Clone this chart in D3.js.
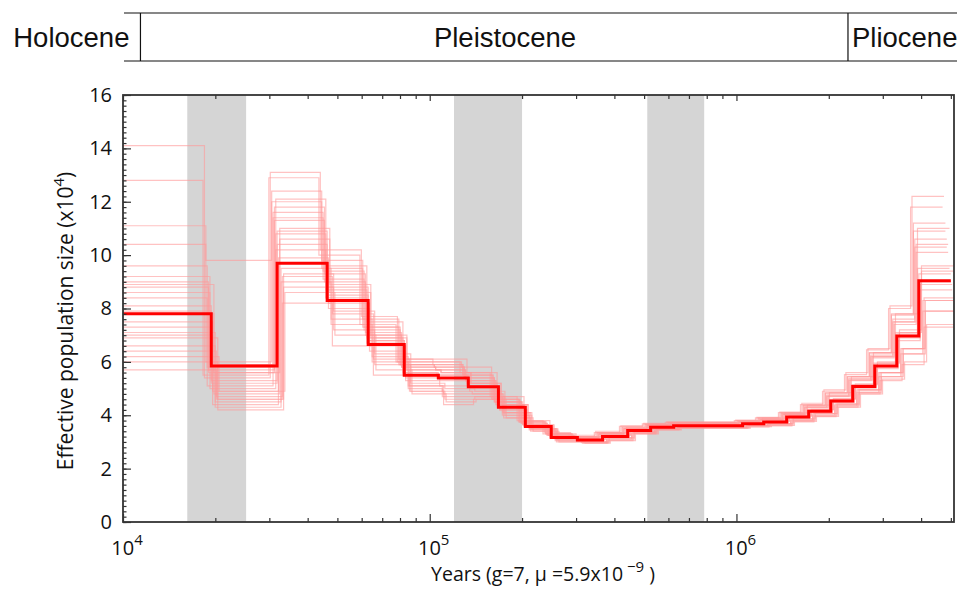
<!DOCTYPE html>
<html>
<head>
<meta charset="utf-8">
<script src="https://cdn.jsdelivr.net/npm/d3@7"></script>
<style>
  body { margin: 0; background: #fff; }
  svg text { fill: #111; }
</style>
</head>
<body>
<div id="chart"></div>
<script>
// ---- data ----
// PSMC time edges in years (first edge lies left of the visible range)
const timeEdges = [8000, 19400, 31800, 46300, 63000, 82600, 106700, 133600, 167500, 205000,
  249000, 303000, 366000, 442000, 525000, 624000, 1047000, 1227000, 1458000, 1720000,
  2030000, 2394000, 2825000, 3333000, 3932000, 5000000];
// main estimate, Ne (x10^4) per interval
const neMain = [7.8, 5.85, 9.7, 8.3, 6.65, 5.5, 5.4, 5.07, 4.3, 3.58, 3.17, 3.07, 3.2, 3.43,
  3.55, 3.61, 3.68, 3.75, 3.93, 4.15, 4.53, 5.08, 5.85, 6.97, 9.04];

// bootstrap replicates: time scaling of each replicate
const bootScale = [1.02, 0.97, 1.05, 0.99, 1.03, 0.95, 1.06, 0.98, 1.01, 0.96, 1.04, 1.0,
  0.97, 1.03, 0.99, 0.94, 1.02, 1.05, 1.0, 0.96, 1.04, 0.98, 1.01, 0.99];
// bootstrap Ne values, one row per interval, one column per replicate
const bootNe = [
  [7.8, 8.4, 6.9, 9.2, 7.1, 14.1, 6.2, 8.8, 7.5, 10.4, 5.7, 8.1, 9.6, 6.6, 7.3, 12.8, 8.9, 6.0, 7.9, 11.1, 6.4, 9.0, 7.0, 8.6],
  [5.6, 5.1, 4.6, 5.9, 4.3, 5.4, 4.9, 5.7, 4.4, 6.0, 4.7, 5.3, 5.8, 4.5, 5.0, 5.5, 4.8, 4.2, 5.2, 9.8, 4.6, 5.6, 4.9, 5.9],
  [10.6, 11.4, 9.3, 12.1, 9.0, 13.1, 8.6, 11.8, 9.9, 12.4, 8.2, 10.9, 11.6, 9.5, 10.2, 12.9, 11.0, 8.8, 10.4, 12.0, 9.2, 11.3, 9.7, 10.8],
  [8.6, 9.1, 7.9, 9.6, 7.4, 10.2, 7.0, 9.3, 8.2, 9.8, 6.6, 8.8, 9.4, 7.6, 8.4, 10.0, 8.9, 7.2, 8.5, 9.5, 7.8, 9.0, 8.0, 8.7],
  [6.9, 7.2, 6.3, 7.5, 6.0, 7.7, 5.7, 7.1, 6.6, 7.6, 5.5, 6.8, 7.3, 6.2, 6.7, 7.4, 7.0, 5.9, 6.8, 7.3, 6.1, 7.0, 6.4, 6.9],
  [5.7, 5.9, 5.2, 6.1, 5.0, 6.0, 4.8, 5.8, 5.4, 6.1, 4.9, 5.6, 5.9, 5.1, 5.5, 6.0, 5.7, 4.9, 5.5, 5.9, 5.1, 5.8, 5.3, 5.6],
  [5.6, 5.8, 5.0, 6.1, 4.7, 6.0, 4.5, 5.7, 5.3, 5.9, 4.4, 5.5, 5.8, 4.9, 5.4, 6.0, 5.6, 4.6, 5.4, 5.9, 4.8, 5.7, 5.1, 5.5],
  [5.2, 5.4, 4.9, 5.6, 4.7, 5.8, 4.6, 5.3, 5.0, 5.5, 4.6, 5.1, 5.4, 4.8, 5.1, 5.6, 5.2, 4.7, 5.1, 5.5, 4.8, 5.3, 4.9, 5.2],
  [4.4, 4.5, 4.1, 4.7, 4.0, 4.6, 3.9, 4.5, 4.2, 4.6, 3.9, 4.3, 4.5, 4.1, 4.3, 4.7, 4.4, 4.0, 4.3, 4.6, 4.1, 4.4, 4.2, 4.4],
  [3.6, 3.7, 3.5, 3.8, 3.45, 3.75, 3.4, 3.65, 3.55, 3.75, 3.4, 3.6, 3.7, 3.5, 3.6, 3.8, 3.65, 3.45, 3.6, 3.75, 3.5, 3.65, 3.55, 3.6],
  [3.2, 3.25, 3.1, 3.3, 3.05, 3.35, 3.0, 3.25, 3.15, 3.3, 3.0, 3.2, 3.25, 3.1, 3.15, 3.3, 3.2, 3.05, 3.15, 3.3, 3.1, 3.25, 3.15, 3.2],
  [3.1, 3.15, 3.0, 3.2, 2.97, 3.25, 2.95, 3.15, 3.05, 3.2, 2.95, 3.1, 3.15, 3.0, 3.05, 3.2, 3.1, 2.97, 3.05, 3.2, 3.0, 3.15, 3.05, 3.1],
  [3.25, 3.3, 3.15, 3.35, 3.1, 3.4, 3.05, 3.3, 3.2, 3.35, 3.05, 3.25, 3.3, 3.15, 3.2, 3.35, 3.25, 3.1, 3.2, 3.35, 3.15, 3.3, 3.2, 3.25],
  [3.45, 3.5, 3.38, 3.55, 3.33, 3.6, 3.3, 3.5, 3.42, 3.55, 3.3, 3.45, 3.5, 3.37, 3.43, 3.58, 3.47, 3.33, 3.43, 3.55, 3.37, 3.5, 3.4, 3.46],
  [3.57, 3.62, 3.5, 3.66, 3.47, 3.7, 3.45, 3.62, 3.54, 3.66, 3.45, 3.57, 3.62, 3.5, 3.55, 3.68, 3.58, 3.47, 3.55, 3.66, 3.5, 3.61, 3.53, 3.58],
  [3.63, 3.68, 3.57, 3.72, 3.54, 3.75, 3.52, 3.68, 3.6, 3.72, 3.52, 3.63, 3.68, 3.57, 3.61, 3.73, 3.64, 3.54, 3.61, 3.72, 3.57, 3.67, 3.59, 3.64],
  [3.7, 3.75, 3.63, 3.8, 3.6, 3.82, 3.57, 3.75, 3.67, 3.79, 3.56, 3.7, 3.76, 3.63, 3.68, 3.8, 3.71, 3.6, 3.68, 3.79, 3.63, 3.74, 3.66, 3.71],
  [3.78, 3.84, 3.69, 3.89, 3.65, 3.92, 3.62, 3.84, 3.74, 3.89, 3.6, 3.78, 3.85, 3.69, 3.75, 3.9, 3.79, 3.65, 3.75, 3.88, 3.69, 3.83, 3.72, 3.79],
  [3.97, 4.03, 3.86, 4.09, 3.8, 4.12, 3.77, 4.04, 3.92, 4.08, 3.75, 3.96, 4.05, 3.86, 3.93, 4.1, 3.98, 3.81, 3.93, 4.08, 3.86, 4.02, 3.9, 3.98],
  [4.2, 4.3, 4.06, 4.38, 4.0, 4.45, 3.96, 4.3, 4.13, 4.38, 3.95, 4.19, 4.32, 4.06, 4.15, 4.4, 4.22, 4.0, 4.15, 4.37, 4.06, 4.28, 4.11, 4.21],
  [4.6, 4.72, 4.42, 4.85, 4.35, 4.95, 4.3, 4.73, 4.5, 4.84, 4.3, 4.58, 4.76, 4.42, 4.53, 4.9, 4.62, 4.35, 4.53, 4.83, 4.42, 4.7, 4.48, 4.6],
  [5.15, 5.32, 4.95, 5.45, 4.86, 5.6, 4.8, 5.33, 5.05, 5.45, 4.8, 5.13, 5.37, 4.95, 5.08, 5.52, 5.18, 4.86, 5.08, 5.44, 4.95, 5.3, 5.02, 5.15],
  [5.95, 6.2, 5.6, 6.35, 5.45, 6.5, 5.35, 6.2, 5.8, 6.35, 5.3, 5.92, 6.25, 5.6, 5.85, 6.45, 6.0, 5.45, 5.85, 6.33, 5.6, 6.15, 5.75, 5.95],
  [7.1, 7.5, 6.5, 7.8, 6.3, 8.1, 6.0, 7.5, 6.9, 7.8, 5.9, 7.05, 7.6, 6.5, 6.97, 8.0, 7.2, 6.3, 6.97, 7.75, 6.5, 7.4, 6.8, 7.1],
  [9.4, 10.3, 8.3, 11.0, 7.9, 12.2, 7.4, 10.4, 8.9, 11.2, 7.3, 9.3, 10.6, 8.3, 9.04, 11.8, 9.6, 7.9, 9.0, 10.9, 8.4, 10.1, 8.7, 9.5]
];

// glacial periods shaded in grey (years)
const bandStart = [16200, 120000, 512000];
const bandEnd = [25200, 200000, 785000];

// geological epochs across the top
const epochNames = ["Holocene", "Pleistocene", "Pliocene"];
const epochBounds = [11400, 2310000];

const yTicks = [0, 2, 4, 6, 8, 10, 12, 14, 16];
const xMajor = [1e4, 1e5, 1e6];
const xLabelExp = ["4", "5", "6"];

// ---- layout ----
const W = 971, H = 589;
const plot = { left: 123, right: 954, top: 95, bottom: 522 };
const font = "'Open Sans', 'DejaVu Sans', sans-serif";

const svg = d3.select("#chart").append("svg")
  .attr("width", W)
  .attr("height", H);

const x = d3.scaleLog().domain([1e4, 5.12e6]).range([plot.left, plot.right]);
const y = d3.scaleLinear().domain([0, 16]).range([plot.bottom, plot.top]);

svg.append("clipPath").attr("id", "plotClip")
  .append("rect")
  .attr("x", plot.left).attr("y", plot.top)
  .attr("width", plot.right - plot.left).attr("height", plot.bottom - plot.top);

const inner = svg.append("g").attr("clip-path", "url(#plotClip)");

// grey bands
inner.selectAll(".band")
  .data(bandStart.map((s, i) => [s, bandEnd[i]]))
  .enter().append("rect")
  .attr("class", "band")
  .attr("x", d => x(d[0]))
  .attr("y", plot.top)
  .attr("width", d => x(d[1]) - x(d[0]))
  .attr("height", plot.bottom - plot.top)
  .attr("fill", "#d5d5d5");

// step line helper
const stepLine = d3.line()
  .x(d => x(d[0]))
  .y(d => y(d[1]))
  .curve(d3.curveStepAfter);

function stepPoints(edges, vals, scale) {
  let pts = vals.map((v, i) => [edges[i] * scale, v]);
  pts.push([edges[edges.length - 1] * scale, vals[vals.length - 1]]);
  return pts;
}

// bootstrap lines
const boots = bootScale.map((s, k) => stepPoints(timeEdges, bootNe.map(row => row[k]), s));
inner.selectAll(".boot")
  .data(boots)
  .enter().append("path")
  .attr("class", "boot")
  .attr("d", stepLine)
  .attr("fill", "none")
  .attr("stroke", "#ff9a9a")
  .attr("stroke-opacity", 0.6)
  .attr("stroke-width", 1.2);

// main estimate
inner.append("path")
  .attr("d", stepLine(stepPoints(timeEdges, neMain, 1)))
  .attr("fill", "none")
  .attr("stroke", "#ff0000")
  .attr("stroke-width", 3);

// ---- axes ----
function minorLogTicks() {
  let out = [];
  [1e4, 1e5, 1e6].forEach(d => {
    for (let m = 2; m <= 9; m++) {
      if (d * m <= x.domain()[1]) out.push(d * m);
    }
  });
  return out;
}

function styleAxis(g) {
  g.select(".domain").remove();
  g.selectAll(".tick line").attr("stroke", "#333").attr("stroke-width", 1.2);
}

// bottom
svg.append("g").attr("transform", `translate(0,${plot.bottom})`)
  .call(d3.axisBottom(x).tickValues(minorLogTicks()).tickSize(-4).tickFormat(""))
  .call(styleAxis);
svg.append("g").attr("transform", `translate(0,${plot.bottom})`)
  .call(d3.axisBottom(x).tickValues(xMajor).tickSize(-8).tickFormat(""))
  .call(styleAxis);
// top
svg.append("g").attr("transform", `translate(0,${plot.top})`)
  .call(d3.axisTop(x).tickValues(minorLogTicks()).tickSize(-4).tickFormat(""))
  .call(styleAxis);
svg.append("g").attr("transform", `translate(0,${plot.top})`)
  .call(d3.axisTop(x).tickValues(xMajor).tickSize(-6).tickFormat(""))
  .call(styleAxis);
// left
svg.append("g").attr("transform", `translate(${plot.left},0)`)
  .call(d3.axisLeft(y).tickValues(d3.range(0, 16.01, 0.2)).tickSize(-3.5).tickFormat(""))
  .call(styleAxis);
svg.append("g").attr("transform", `translate(${plot.left},0)`)
  .call(d3.axisLeft(y).tickValues(yTicks).tickSize(-8).tickPadding(11))
  .call(styleAxis)
  .call(g => g.selectAll("text")
    .attr("font-family", font)
    .attr("font-size", 20)
    .attr("fill", "#111"));

// frame
svg.append("rect")
  .attr("x", plot.left).attr("y", plot.top)
  .attr("width", plot.right - plot.left).attr("height", plot.bottom - plot.top)
  .attr("fill", "none")
  .attr("stroke", "#333")
  .attr("stroke-width", 1.8);

// x tick labels 10^n
const xLab = svg.selectAll(".xlab")
  .data(xMajor)
  .enter().append("text")
  .attr("class", "xlab")
  .attr("x", d => x(d) + 4)
  .attr("y", 555)
  .attr("text-anchor", "middle")
  .attr("font-family", font)
  .attr("font-size", 20);
xLab.append("tspan").text("10");
xLab.append("tspan").attr("dy", -10).attr("font-size", 15).text((d, i) => xLabelExp[i]);

// axis titles
const xTitle = svg.append("text")
  .attr("x", 543).attr("y", 581)
  .attr("text-anchor", "middle")
  .attr("font-family", font)
  .attr("font-size", 19.5);
xTitle.append("tspan").text("Years (g=7, \u03bc =5.9x10");
xTitle.append("tspan").attr("dy", -9).attr("font-size", 15).text(" \u22129");
xTitle.append("tspan").attr("dy", 9).text(" )");

const yTitle = svg.append("text")
  .attr("transform", "translate(73,321) rotate(-90)")
  .attr("text-anchor", "middle")
  .attr("font-family", font)
  .attr("font-size", 21);
yTitle.append("tspan").text("Effective population size (x10");
yTitle.append("tspan").attr("dy", -9).attr("font-size", 15).text("4");
yTitle.append("tspan").attr("dy", 9).text(")");

// ---- epoch header ----
const head = svg.append("g");
const headTop = 13, headBottom = 61;
head.selectAll(".hline")
  .data([headTop, headBottom])
  .enter().append("line")
  .attr("x1", 124).attr("x2", 957)
  .attr("y1", d => d).attr("y2", d => d)
  .attr("stroke", "#111").attr("stroke-width", 1.2);
head.selectAll(".divider")
  .data(epochBounds)
  .enter().append("line")
  .attr("x1", d => x(d)).attr("x2", d => x(d))
  .attr("y1", headTop).attr("y2", headBottom)
  .attr("stroke", "#111").attr("stroke-width", 1.2);

const headFont = "'Liberation Sans', Arial, sans-serif";
head.append("text")
  .attr("x", x(epochBounds[0]) - 11).attr("y", 47)
  .attr("text-anchor", "end")
  .attr("font-family", headFont).attr("font-size", 27.5)
  .text(epochNames[0]);
head.append("text")
  .attr("x", 505).attr("y", 47)
  .attr("text-anchor", "middle")
  .attr("font-family", headFont).attr("font-size", 27.5)
  .text(epochNames[1]);
head.append("text")
  .attr("x", x(epochBounds[1]) + 4).attr("y", 47)
  .attr("text-anchor", "start")
  .attr("font-family", headFont).attr("font-size", 27.5)
  .text(epochNames[2]);
</script>
</body>
</html>
